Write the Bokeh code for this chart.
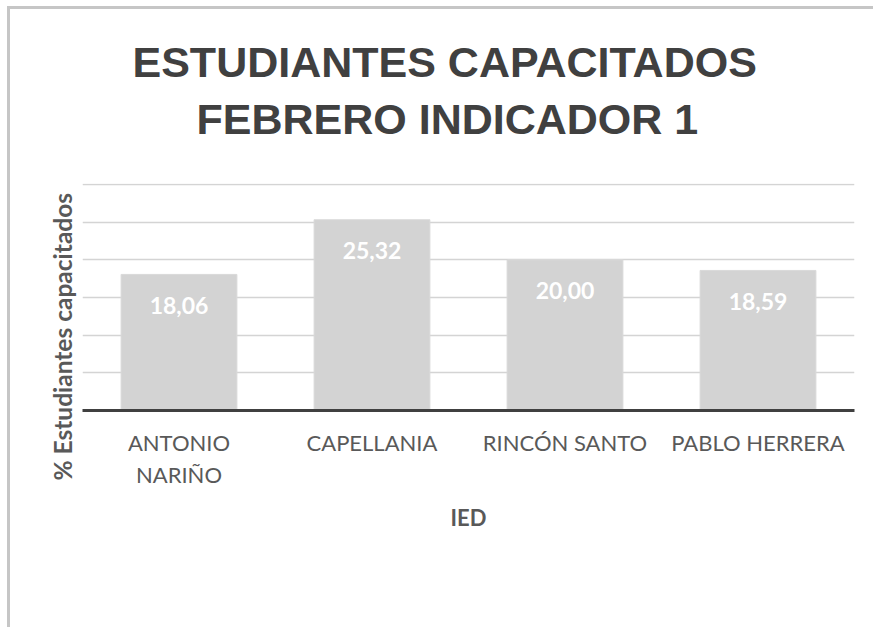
from bokeh.plotting import figure
from bokeh.models import (ColumnDataSource, FactorRange, Range1d, LabelSet, Title,
                          Legend, LegendItem, SingleIntervalTicker)
from bokeh.core.properties import value
from bokeh.embed import file_html
from bokeh.resources import INLINE

# ---- data ----
schools = ["ANTONIO\nNARIÑO", "CAPELLANIA", "RINCÓN SANTO", "PABLO HERRERA"]
values = [18.06, 25.32, 20.00, 18.59]
value_labels = ["18,06", "25,32", "20,00", "18,59"]
series_name = "ESTUDIANTES CAPACITADOS INDICADOR 1"
title_lines = ["ESTUDIANTES CAPACITADOS", "FEBRERO INDICADOR 1"]
y_title = "% Estudiantes capacitados"
x_title = "IED"
y_max = 30
grid_step = 5

src = ColumnDataSource(dict(school=schools, value=values, label=value_labels))

p = figure(x_range=FactorRange(*schools), y_range=Range1d(0, y_max + 0.13),
           frame_width=772, frame_height=227, output_backend="svg",
           toolbar_location=None, title=None,
           min_border_left=72, min_border_right=19,
           min_border_top=174, min_border_bottom=217)
p.styles = {"margin-left": "7px", "margin-top": "6px",
            "border-left": "3px solid #c6c6c6", "border-top": "3px solid #c6c6c6"}
p.outline_line_color = None
p.background_fill_color = "white"
p.border_fill_color = "white"

bars = p.vbar(x="school", top="value", width=0.6, source=src,
              fill_color="#d3d3d3", line_color="#d9d9d9", line_width=1)

# grid
p.xgrid.visible = False
p.ygrid.ticker = SingleIntervalTicker(interval=grid_step)
p.ygrid.grid_line_color = "#d4d4d4"
p.ygrid.grid_line_width = 1.6
p.yaxis.visible = False

# x axis
ax = p.xaxis[0]
ax.axis_line_color = "#404040"
ax.axis_line_width = 3
ax.major_tick_line_color = None
ax.minor_tick_line_color = None
ax.major_label_text_font = "Lato"
ax.major_label_text_font_size = "22px"
ax.major_label_text_color = "#595959"
ax.major_label_standoff = 12
ax.major_label_text_line_height = 1.2
ax.axis_label = x_title
ax.axis_label_text_font = "Lato"
ax.axis_label_text_font_size = "22px"
ax.axis_label_text_font_style = "bold"
ax.axis_label_text_color = "#595959"
ax.axis_label_standoff = 13

# value labels
labels = LabelSet(x="school", y="value", text="label", source=src,
                  y_offset=-31, text_align="center", text_baseline="middle",
                  text_color="white", text_font=value("Lato"),
                  text_font_size="23px", text_font_style="bold")
p.add_layout(labels)

# y title (left panel)
p.add_layout(Title(text=y_title, align="left", offset=-70, vertical_align="middle",
                   text_font="Lato", text_font_size="24.5px", text_font_style="bold",
                   text_color="#595959", standoff=9), "left")

# chart title (above panel, stacked outward from the frame)
p.add_layout(Title(text=" ", text_font_size="1px", standoff=38), "above")
p.add_layout(Title(text=title_lines[1], align="left", offset=114, standoff=0,
                   text_font="Liberation Sans", text_font_size="43px",
                   text_font_style="bold", text_color="#404040"), "above")
p.add_layout(Title(text=title_lines[0], align="left", offset=50, standoff=14,
                   text_font="Liberation Sans", text_font_size="43px",
                   text_font_style="bold", text_color="#404040"), "above")

# legend (below panel, right after the x axis)
legend = Legend(items=[LegendItem(label=series_name, renderers=[bars])],
                location="top_center", orientation="horizontal",
                background_fill_color="#f8f8f8", background_fill_alpha=1,
                border_line_color=None, padding=12, margin=0,
                glyph_width=12, glyph_height=11, label_standoff=7,
                label_width=488, label_text_font="Lato",
                label_text_font_size="20px", label_text_color="#595959")
p.add_layout(legend, "below")

open("out.html", "w").write(file_html(p, INLINE))
